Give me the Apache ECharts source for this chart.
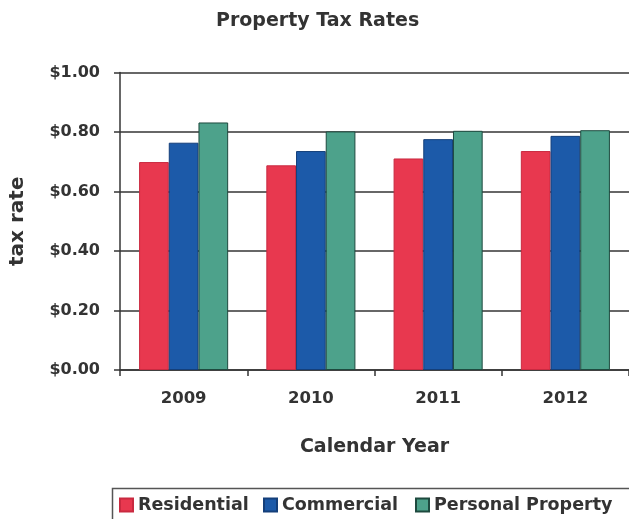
<!DOCTYPE html>
<html>
<head>
<meta charset="utf-8">
<title>Property Tax Rates</title>
<script src="https://cdn.jsdelivr.net/npm/echarts@6/dist/echarts.min.js"></script>
<style>
  html, body { margin: 0; padding: 0; background: #fff; }
  #chart { width: 629px; height: 519px; }
</style>
</head>
<body>
<div id="chart"></div>
<script>
// Calendar years on the category axis
const years = ['2009', '2010', '2011', '2012'];

// Tax rate per dollar, by property class
const residential = [0.699, 0.688, 0.711, 0.736];
const commercial = [0.764, 0.736, 0.776, 0.787];
const personalProperty = [0.832, 0.802, 0.804, 0.806];

const seriesNames = ['Residential', 'Commercial', 'Personal Property'];
const seriesColors = ['#e8384f', '#1c5aa9', '#4da28b'];
const seriesBorders = ['#c92a40', '#143f7a', '#1e4a3f'];

// Y-axis range and step
const yMin = 0;
const yMax = 1;
const yStep = 0.2;

const FONT = 'DejaVu Sans';
const TEXT = '#333333';
const LINE = '#353535';

const chart = echarts.init(document.getElementById('chart'), null, { renderer: 'canvas' });

const values = [residential, commercial, personalProperty];
const legendLefts = [119, 263, 415];

const option = {
  backgroundColor: '#ffffff',
  animation: false,
  title: {
    text: 'Property Tax Rates',
    left: 216,
    top: 12,
    padding: 0,
    textStyle: { fontFamily: FONT, fontWeight: 'bold', fontSize: 19, color: TEXT }
  },
  legend: seriesNames.map((name, i) => ({
    data: [name],
    left: legendLefts[i],
    top: 496,
    padding: 0,
    itemWidth: 13,
    itemHeight: 13,
    icon: 'rect',
    textStyle: { fontFamily: FONT, fontWeight: 'bold', fontSize: 17.5, color: TEXT }
  })),
  graphic: [{
    type: 'rect',
    shape: { x: 112.5, y: 488.5, width: 540, height: 60 },
    style: { fill: 'none', stroke: '#555555', lineWidth: 1.5 },
    z: -1
  }],
  grid: { left: 120, right: 0, top: 72.5, bottom: 149, containLabel: false, outerBoundsMode: 'none' },
  xAxis: {
    type: 'category',
    data: years,
    name: 'Calendar Year',
    nameLocation: 'middle',
    nameGap: 68,
    nameTextStyle: { fontFamily: FONT, fontWeight: 'bold', fontSize: 19, color: TEXT },
    axisLine: { show: true, lineStyle: { color: LINE, width: 1.5 } },
    axisTick: { show: true, length: 6, alignWithLabel: false, lineStyle: { color: LINE, width: 1.5 } },
    axisLabel: { margin: 20, fontFamily: FONT, fontWeight: 'bold', fontSize: 16.5, color: TEXT },
    splitLine: { show: false }
  },
  yAxis: {
    type: 'value',
    min: yMin,
    max: yMax,
    interval: yStep,
    name: 'tax rate',
    nameLocation: 'middle',
    nameGap: 92,
    nameTextStyle: { fontFamily: FONT, fontWeight: 'bold', fontSize: 20, color: TEXT },
    axisLine: { show: true, lineStyle: { color: LINE, width: 1.5 } },
    axisTick: { show: true, length: 6, lineStyle: { color: LINE, width: 1.5 } },
    axisLabel: {
      margin: 20,
      fontFamily: FONT, fontWeight: 'bold', fontSize: 16, color: TEXT,
      formatter: v => '$' + v.toFixed(2)
    },
    splitLine: { show: true, lineStyle: { color: LINE, width: 1.5 } }
  },
  series: seriesNames.map((name, i) => ({
    name: name,
    type: 'bar',
    data: values[i],
    barGap: '0%',
    barCategoryGap: '30%',
    itemStyle: { color: seriesColors[i], borderColor: seriesBorders[i], borderWidth: 1 }
  }))
};

chart.setOption(option);
</script>
</body>
</html>
